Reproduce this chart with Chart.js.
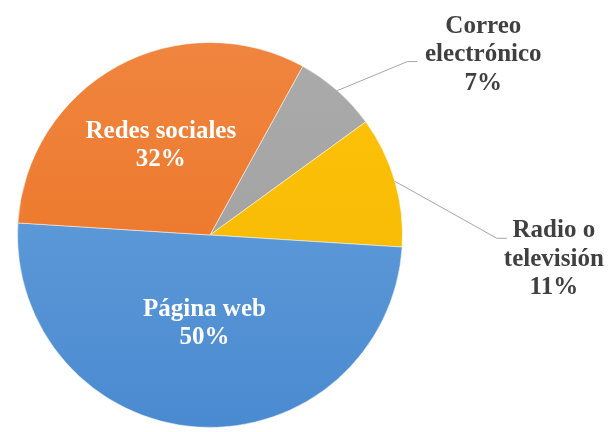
<!DOCTYPE html>
<html>
<head>
<meta charset="utf-8">
<script src="https://cdn.jsdelivr.net/npm/chart.js@4/dist/chart.umd.min.js"></script>
<style>
  html, body { margin: 0; padding: 0; background: #fff; }
  #wrap { width: 608px; height: 432px; }
</style>
</head>
<body>
<div id="wrap"><canvas id="pieChart" width="608" height="432"></canvas></div>
<script>
// categories (one entry per text line) and their shares in percent
const categories = [['Correo', 'electrónico'], ['Radio o', 'televisión'], ['Página web'], ['Redes sociales']];
const values = [7, 11, 50, 32];

// slice colours: light (top) -> dark (bottom)
const sliceColors = [
    ['#ababab', '#9c9c9c'],
    ['#ffc30c', '#f3b600'],
    ['#6aa4de', '#4a8ad0'],
    ['#f0853f', '#ea6f1e']
];

// where each label goes: inside the slice, or outside with a leader line
const placement = [
    { inside: false, dx: 70, dy: -29, tail: 10, tx: 76, ty: -7 },
    { inside: false, dx: 102, dy: 57, tail: 10, tx: 57, ty: 21 },
    { inside: true, r: 0.46 },
    { inside: true, r: 0.53 }
];

const labelFont = 'bold 25px "Liberation Serif", "Times New Roman", serif';
const lineHeight = 28.5;

const sliceLabels = {
    id: 'sliceLabels',
    afterDatasetsDraw(chart) {
        const ctx = chart.ctx;
        const meta = chart.getDatasetMeta(0);
        ctx.save();
        ctx.font = labelFont;
        ctx.textAlign = 'center';
        ctx.textBaseline = 'middle';
        meta.data.forEach((arc, i) => {
            const p = placement[i];
            const { x, y, startAngle, endAngle, outerRadius } =
                arc.getProps(['x', 'y', 'startAngle', 'endAngle', 'outerRadius'], true);
            const mid = (startAngle + endAngle) / 2;
            const lines = [...categories[i], values[i] + '%'];
            let cx, cy;
            if (p.inside) {
                cx = x + Math.cos(mid) * outerRadius * p.r;
                cy = y + Math.sin(mid) * outerRadius * p.r;
                ctx.fillStyle = '#ffffff';
            } else {
                const ex = x + Math.cos(mid) * outerRadius;
                const ey = y + Math.sin(mid) * outerRadius;
                const bx = ex + p.dx, by = ey + p.dy;
                ctx.strokeStyle = '#a6a6a6';
                ctx.lineWidth = 1;
                ctx.beginPath();
                ctx.moveTo(ex, ey);
                ctx.lineTo(bx, by);
                ctx.lineTo(bx + p.tail, by);
                ctx.stroke();
                cx = bx + p.tx;
                cy = by + p.ty;
                ctx.fillStyle = '#404040';
            }
            const top = cy - (lines.length - 1) * lineHeight / 2;
            lines.forEach((t, k) => ctx.fillText(t, cx, top + k * lineHeight));
        });
        ctx.restore();
    }
};

function sliceFill(context) {
    const chart = context.chart;
    const area = chart.chartArea;
    const pair = sliceColors[context.dataIndex];
    if (!area) return pair[0];
    const g = chart.ctx.createLinearGradient(0, area.top, 0, area.bottom);
    g.addColorStop(0, pair[0]);
    g.addColorStop(1, pair[1]);
    return g;
}

new Chart(document.getElementById('pieChart').getContext('2d'), {
    type: 'pie',
    data: {
        labels: categories,
        datasets: [{
            data: values,
            backgroundColor: sliceFill,
            borderColor: 'rgba(255, 255, 255, 0.5)',
            borderWidth: 1
        }]
    },
    options: {
        responsive: false,
        animation: false,
        rotation: 28.8,
        layout: { padding: { left: 17, top: 42, right: 205, bottom: 4 } },
        plugins: {
            legend: { display: false },
            tooltip: { enabled: false }
        }
    },
    plugins: [sliceLabels]
});
</script>
</body>
</html>
